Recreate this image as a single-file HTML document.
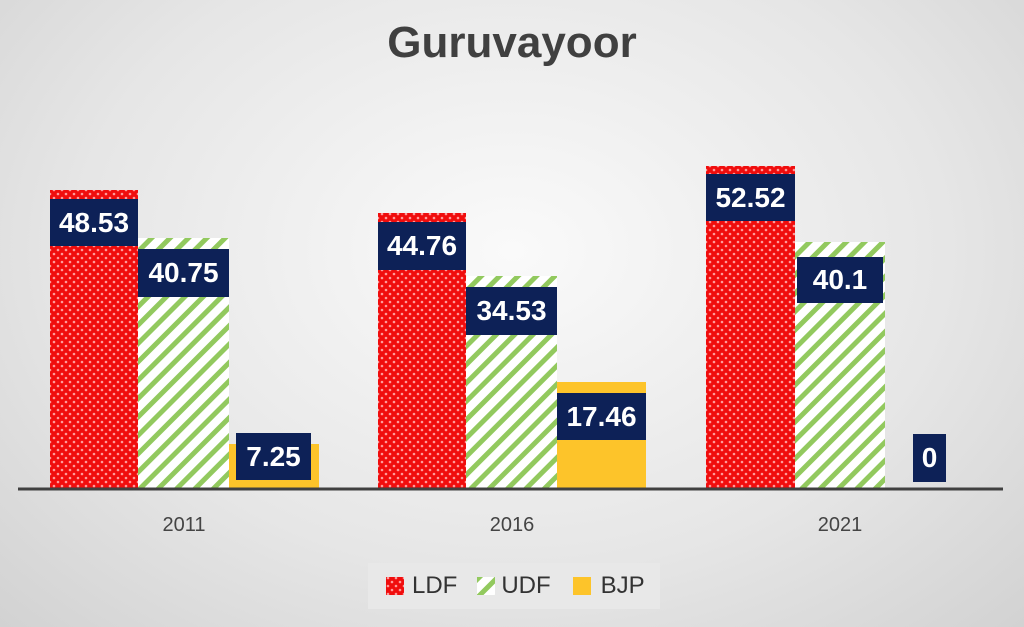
<!DOCTYPE html><html><head><style>
body{margin:0;width:1024px;height:627px;overflow:hidden;background:radial-gradient(ellipse at 50% 40%,#fafafa 0%,#e6e6e6 60%,#d2d2d2 100%);font-family:"Liberation Sans",sans-serif;position:relative}
.b{position:absolute}
.l{position:absolute;background:#0d2157;color:#fff;font-weight:bold;font-size:28px;display:flex;align-items:center;justify-content:center}
.yr{position:absolute;top:514px;font-size:20px;color:#444;width:100px;text-align:center}
</style></head><body>
<svg width="0" height="0" style="position:absolute"><defs>
<pattern id="dot" width="8" height="8" patternUnits="userSpaceOnUse"><rect width="8" height="8" fill="#f00d0d"/><circle cx="2" cy="2" r="1.3" fill="#ff9a9a"/><circle cx="6" cy="6" r="1.3" fill="#ff9a9a"/></pattern>
<pattern id="str" width="13" height="13" patternUnits="userSpaceOnUse" patternTransform="rotate(45)"><rect width="13" height="13" fill="#fff"/><rect width="5" height="13" fill="#92c95e"/></pattern>
</defs></svg>
<div class="b" style="left:0;top:18px;width:1024px;text-align:center;font-size:44px;font-weight:bold;color:#404040">Guruvayoor</div>
<svg class="b" style="left:0;top:0" width="1024" height="627">
<rect x="50" y="190" width="88" height="299" fill="url(#dot)"/>
<rect x="138" y="238" width="91" height="251" fill="url(#str)"/>
<rect x="229" y="444" width="90" height="45" fill="#fdc42a"/>
<rect x="378" y="213" width="88" height="276" fill="url(#dot)"/>
<rect x="466" y="276" width="91" height="213" fill="url(#str)"/>
<rect x="557" y="382" width="89" height="107" fill="#fdc42a"/>
<rect x="706" y="166" width="89" height="323" fill="url(#dot)"/>
<rect x="795" y="242" width="90" height="247" fill="url(#str)"/>
<line x1="18" y1="489" x2="1003" y2="489" stroke="#404040" stroke-width="3"/>
</svg>
<div class="l" style="left:50px;top:199px;width:88px;height:47px">48.53</div>
<div class="l" style="left:138px;top:249px;width:91px;height:48px">40.75</div>
<div class="l" style="left:236px;top:433px;width:75px;height:47px">7.25</div>
<div class="l" style="left:378px;top:222px;width:88px;height:48px">44.76</div>
<div class="l" style="left:466px;top:287px;width:91px;height:48px">34.53</div>
<div class="l" style="left:557px;top:393px;width:89px;height:47px">17.46</div>
<div class="l" style="left:706px;top:174px;width:89px;height:47px">52.52</div>
<div class="l" style="left:797px;top:257px;width:86px;height:46px">40.1</div>
<div class="l" style="left:913px;top:434px;width:33px;height:48px">0</div>
<div class="yr" style="left:134px">2011</div>
<div class="yr" style="left:462px">2016</div>
<div class="yr" style="left:790px">2021</div>
<div class="b" style="left:368px;top:563px;width:292px;height:46px;background:#e8e8e8;display:flex;align-items:center;font-size:24px;color:#333">
<svg width="20" height="20" style="margin-left:18px"><rect width="18" height="18" y="1" fill="url(#dot)"/></svg><span style="margin-left:6px">LDF</span>
<svg width="20" height="20" style="margin-left:20px"><rect width="18" height="18" y="1" fill="url(#str)"/></svg><span style="margin-left:4px">UDF</span>
<svg width="20" height="20" style="margin-left:22px"><rect width="18" height="18" y="1" fill="#fdc42a"/></svg><span style="margin-left:8px">BJP</span>
</div>
</body></html>
